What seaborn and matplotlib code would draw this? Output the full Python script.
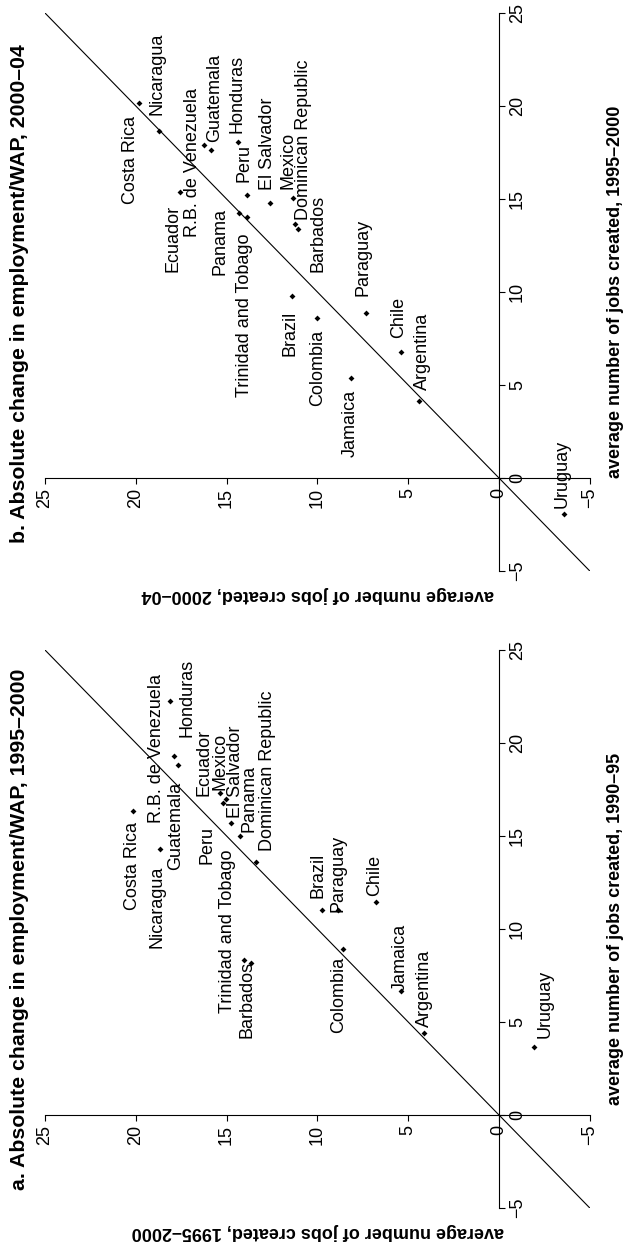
import matplotlib
matplotlib.use("Agg")
import matplotlib.pyplot as plt
import seaborn as sns
import pandas as pd

# Average number of jobs created per period, by country
countries = [
    "Costa Rica", "Nicaragua", "Honduras", "R.B. de Venezuela", "Guatemala",
    "Ecuador", "Peru", "Mexico", "El Salvador", "Panama",
    "Trinidad and Tobago", "Dominican Republic", "Barbados", "Brazil", "Colombia",
    "Paraguay", "Chile", "Jamaica", "Argentina", "Uruguay",
]
jobs_1990_95 = [16.36, 14.28, 22.27, 19.30, 18.82,
                17.30, 16.79, 16.99, 15.72, 15.00,
                8.33, 13.59, 8.16, 11.04, 8.93,
                11.04, 11.47, 6.66, 4.42, 3.64]
jobs_1995_2000 = [20.14, 18.67, 18.09, 17.92, 17.66,
                  15.36, 15.22, 15.04, 14.78, 14.27,
                  14.04, 13.39, 13.63, 9.77, 8.58,
                  8.85, 6.80, 5.38, 4.12, -1.92]
jobs_2000_04 = [19.81, 18.74, 14.36, 16.24, 15.86,
                17.57, 13.89, 11.36, 12.61, 14.33,
                13.89, 11.08, 11.23, 11.42, 10.00,
                7.32, 5.40, 8.17, 4.39, -3.58]

tick_values = [25, 20, 15, 10, 5, 0, -5]

df = pd.DataFrame({
    "country": countries,
    "j9095": jobs_1990_95,
    "j9500": jobs_1995_2000,
    "j0004": jobs_2000_04,
})

# label offsets in pixels (right, down) from each marker
offsets_a = {
    "Costa Rica": (-0.4, 55), "Nicaragua": (-3, 57), "Honduras": (16.6, -2.7),
    "R.B. de Venezuela": (-17, -8), "Guatemala": (-3, 61), "Ecuador": (-16, -31),
    "Peru": (-16, 42), "Mexico": (-6, -38), "El Salvador": (5, -51),
    "Panama": (9, -38), "Trinidad and Tobago": (-16.7, -29),
    "Dominican Republic": (12, -91), "Barbados": (-4.4, 36), "Brazil": (-3.2, -34),
    "Colombia": (-4.8, 46), "Paraguay": (0, -36), "Chile": (-1.2, -26),
    "Jamaica": (-1, -34), "Argentina": (0, -44), "Uruguay": (11.7, -43),
}
offsets_b = {
    "Costa Rica": (-8.6, 57), "Nicaragua": (-2, -57), "Honduras": (-1, -48),
    "R.B. de Venezuela": (-11.3, 18), "Guatemala": (3.3, -51.5), "Ecuador": (-6.7, 46),
    "Peru": (-2.7, -32), "Mexico": (-5, -38), "El Salvador": (-3, -59),
    "Panama": (-18.7, 29), "Trinidad and Tobago": (-2.7, 98),
    "Dominican Republic": (5.3, -89), "Barbados": (23, 9), "Brazil": (-1.7, 37),
    "Colombia": (0, 50), "Paraguay": (-2.7, -56), "Chile": (-2, -34),
    "Jamaica": (0, 46), "Argentina": (3, -50), "Uruguay": (-1.7, -40),
}

plt.rcParams["font.family"] = ["Liberation Sans", "DejaVu Sans"]
plt.rcParams["text.color"] = "black"

W, H = 625, 1249
fig = plt.figure(figsize=(W / 100, H / 100), dpi=100)
fig.patch.set_facecolor("white")

ax_left_px, ax_right_px = 45, 589.8


def make_axes(top_px, bottom_px):
    return fig.add_axes([ax_left_px / W, 1 - bottom_px / H,
                         (ax_right_px - ax_left_px) / W, (bottom_px - top_px) / H])


def draw_panel(ax, xcol, ycol, hlabel, vlabel, offsets):
    ax.axline((0, 0), slope=1, color="black", lw=0.8, zorder=1)
    sns.scatterplot(data=df, x=xcol, y=ycol, marker="D", s=9, color="black",
                    linewidth=0, legend=False, ax=ax, zorder=3)
    ax.set_xlim(25, -5)
    ax.set_ylim(-5, 25)
    ax.set_facecolor("white")

    for s in ("top", "left"):
        ax.spines[s].set_visible(False)
    for s in ("bottom", "right"):
        ax.spines[s].set_position(("data", 0))
        ax.spines[s].set_color("black")
        ax.spines[s].set_linewidth(0.8)
    ax.xaxis.set_ticks_position("bottom")
    ax.yaxis.set_ticks_position("right")
    ax.set_xticks(tick_values)
    ax.set_yticks(tick_values)
    ax.tick_params(axis="both", direction="out", length=4.3, width=0.8,
                   colors="black", labelsize=13, pad=2.8)
    ax.tick_params(axis="x", labelrotation=90)
    ax.tick_params(axis="y", labelrotation=90)
    for lab in ax.get_yticklabels():
        lab.set_verticalalignment("center")

    ax.set_xlabel(hlabel, rotation=180, rotation_mode="anchor", ha="center",
                  va="baseline", fontsize=13, fontweight="bold", color="black")
    ax.xaxis.set_label_coords(0.5, -19 / 558)
    ax.yaxis.set_label_position("right")
    ax.set_ylabel(vlabel, rotation=90, rotation_mode="anchor", ha="center",
                  va="baseline", fontsize=13, fontweight="bold", color="black")
    ax.yaxis.set_label_coords((619.5 - ax_left_px) / (ax_right_px - ax_left_px), 0.5)

    for name, xv, yv in zip(df["country"], df[xcol], df[ycol]):
        dx, dy = offsets[name]
        ax.annotate(name, (xv, yv), xytext=(dx, -dy), textcoords="offset pixels",
                    rotation=90, rotation_mode="anchor", ha="center", va="center",
                    fontsize=13, color="black", zorder=4)


ax_b = make_axes(13, 571)
ax_a = make_axes(650, 1208)

draw_panel(ax_b, "j0004", "j9500",
           "average number of jobs created, 2000–04",
           "average number of jobs created, 1995–2000", offsets_b)
draw_panel(ax_a, "j9500", "j9095",
           "average number of jobs created, 1995–2000",
           "average number of jobs created, 1990–95", offsets_a)

fig.text(25 / W, 1 - 543 / H, "b. Absolute change in employment/WAP, 2000–04",
         rotation=90, rotation_mode="anchor", ha="left", va="baseline",
         fontsize=15.3, fontweight="bold", color="black")
fig.text(25 / W, 1 - 1190 / H, "a. Absolute change in employment/WAP, 1995–2000",
         rotation=90, rotation_mode="anchor", ha="left", va="baseline",
         fontsize=15.3, fontweight="bold", color="black")

fig.savefig("out.png", dpi=100, facecolor="white")
